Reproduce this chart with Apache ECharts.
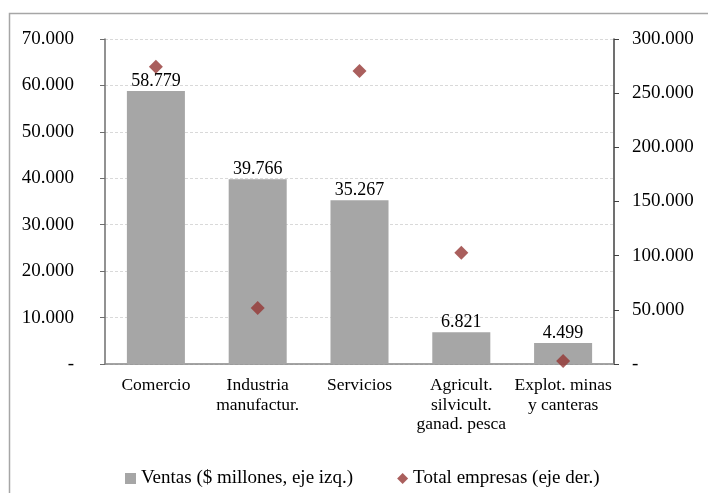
<!DOCTYPE html>
<html>
<head>
<meta charset="utf-8">
<script src="https://cdn.jsdelivr.net/npm/echarts@6/dist/echarts.min.js"></script>
<style>
  html, body { margin: 0; padding: 0; background: #fff; }
  #chart { width: 708px; height: 493px; }
</style>
</head>
<body>
<div id="chart"></div>
<script>
// Sectores económicos: ventas (eje izquierdo) y total de empresas (eje derecho)
const categories = ['Comercio', 'Industria\nmanufactur.', 'Servicios', 'Agricult.\nsilvicult.\nganad. pesca', 'Explot. minas\ny canteras'];
const ventas = [58779, 39766, 35267, 6821, 4499];
const empresas = [274400, 51700, 270500, 102700, 2800];
const leftTicks = { min: 0, max: 70000, interval: 10000 };
const rightTicks = { min: 0, max: 300000, interval: 50000 };

const FONT = '"Liberation Serif", "Times New Roman", serif';
const fmt = v => v === 0 ? '-' : v.toLocaleString('de-DE');

const chart = echarts.init(document.getElementById('chart'));
chart.setOption({
  animation: false,
  textStyle: { fontFamily: FONT, color: '#000' },
  graphic: [{
    type: 'rect',
    shape: { x: 9.5, y: 13.5, width: 760, height: 540 },
    style: { fill: 'none', stroke: '#a6a6a6', lineWidth: 1.5 },
    silent: true
  }],
  grid: { left: 105, right: 94, top: 39, bottom: 129 },
  legend: {
    left: 125, top: 469, padding: 0,
    itemWidth: 11, itemHeight: 11, itemGap: 44,
    textStyle: { fontFamily: FONT, fontSize: 19, color: '#000' },
    data: [
      { name: 'Ventas ($ millones, eje izq.)', icon: 'rect' },
      { name: 'Total empresas (eje der.)', icon: 'diamond' }
    ]
  },
  xAxis: {
    type: 'category',
    data: categories,
    axisLine: { lineStyle: { color: '#868686', width: 1.5 } },
    axisTick: { show: false },
    axisLabel: { fontFamily: FONT, fontSize: 17.5, color: '#000', lineHeight: 19.5, margin: 12, interval: 0 }
  },
  yAxis: [{
    type: 'value',
    min: leftTicks.min, max: leftTicks.max, interval: leftTicks.interval,
    position: 'left',
    axisLine: { show: true, lineStyle: { color: '#6e6e6e', width: 1.5 } },
    axisTick: { show: true, length: 5, lineStyle: { color: '#6e6e6e' } },
    splitLine: { lineStyle: { color: '#d9d9d9', type: [3, 2] } },
    axisLabel: { fontFamily: FONT, fontSize: 19, color: '#000', margin: 31, formatter: fmt }
  }, {
    type: 'value',
    min: rightTicks.min, max: rightTicks.max, interval: rightTicks.interval,
    position: 'right',
    axisLine: { show: true, lineStyle: { color: '#404040', width: 1.5 } },
    axisTick: { show: true, length: 5, lineStyle: { color: '#404040' } },
    splitLine: { show: false },
    axisLabel: { fontFamily: FONT, fontSize: 19, color: '#000', margin: 18, formatter: fmt }
  }],
  series: [{
    name: 'Ventas ($ millones, eje izq.)',
    type: 'bar',
    yAxisIndex: 0,
    data: ventas,
    barWidth: '57%',
    itemStyle: { color: '#a6a6a6' },
    label: {
      show: true, position: 'top', distance: 1,
      fontFamily: FONT, fontSize: 18, color: '#000',
      formatter: p => fmt(p.value)
    },
    z: 2
  }, {
    name: 'Total empresas (eje der.)',
    type: 'scatter',
    yAxisIndex: 1,
    data: empresas,
    symbol: 'diamond',
    symbolSize: [14, 14],
    itemStyle: { color: '#953735' },
    z: 3
  }]
});
</script>
</body>
</html>
